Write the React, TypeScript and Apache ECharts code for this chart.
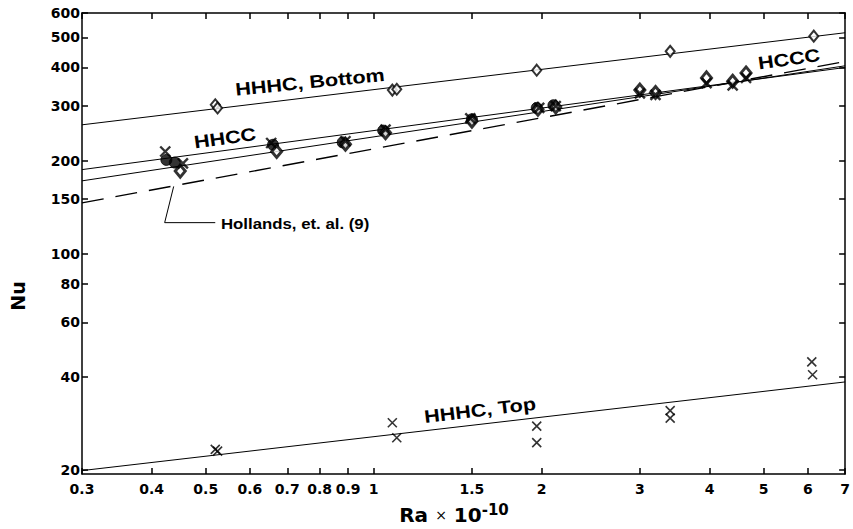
import React, { useEffect, useRef } from 'react';
import * as echarts from 'echarts';

// Axis ticks
const xTicks = [0.3, 0.4, 0.5, 0.6, 0.7, 0.8, 0.9, 1, 1.5, 2, 3, 4, 5, 6, 7];
const yTicks = [20, 40, 60, 80, 100, 150, 200, 300, 400, 500, 600];

// Fitted lines [Ra, Nu]
const bottomLine = [[0.3, 261], [7, 518]];
const hhccLine = [[0.3, 187], [7, 400]];
const hcccLine = [[0.3, 172], [7, 405]];
const hollandsLine = [[0.3, 146], [7, 418]];
const topLine = [[0.3, 19.9], [7, 38.5]];
const hollandsLeader = [[0.438, 165], [0.422, 126], [0.52, 126]];

// Measured points [Ra, Nu]
const bottomPoints = [[0.52, 303], [0.525, 296], [1.08, 338], [1.1, 340], [1.96, 392], [3.4, 451], [6.15, 505]];
const topPoints = [[0.52, 23.3], [0.525, 23.0], [1.08, 28.4], [1.1, 25.4], [1.96, 27.7], [1.96, 24.5], [3.4, 31.1], [3.4, 29.4], [6.1, 44.7], [6.12, 40.6]];
const midDiamonds = [[0.45, 185], [0.67, 214], [0.89, 226], [1.05, 246], [1.5, 268], [1.97, 293], [2.12, 298], [3.0, 338], [3.2, 332], [3.95, 370], [4.4, 361], [4.65, 384]];
const midCircles = [[0.425, 201], [0.44, 197], [0.66, 225], [0.88, 229], [1.04, 250], [1.5, 272], [1.96, 296], [2.1, 302]];
const midCrosses = [[0.423, 214], [0.455, 196], [0.655, 228], [0.89, 231], [1.05, 252], [1.49, 274], [1.98, 296], [2.12, 300], [3.0, 330], [3.2, 326], [3.95, 356], [4.4, 350], [4.65, 370]];

const FONT = 'DejaVu Sans';
const HFONT = 'Liberation Sans';
const CROSS = 'path://M0,0L10,10M10,0L0,10';

const lineSeries = (data: number[][], dashed = false, width = 1) => ({
  type: 'line',
  data,
  symbol: 'none',
  silent: true,
  lineStyle: { color: '#000', width, type: dashed ? [22, 12] : 'solid' },
  z: 2,
});

const note = (text: string, x: number, y: number, rotation: number, fontSize = 18, scaleX = 1.2, align = 'center') => ({
  type: 'text', x, y, rotation, scaleX,
  style: { text, fontFamily: HFONT, fontWeight: 'bold', fontSize, fill: '#000', align, verticalAlign: 'middle' },
});

export default function App() {
  const ref = useRef<HTMLDivElement>(null);
  useEffect(() => {
    const chart = echarts.init(ref.current!, null, { renderer: 'svg' });
    const axisLine = { show: true, lineStyle: { color: '#000', width: 1.5 } };
    const xFmt = (v: number) => String(Math.round(v * 100) / 100);
    const yFmt = (v: number) => String(Math.round(v));
    const labelStyle = { color: '#000', fontFamily: FONT, fontWeight: 'bold', fontSize: 14 };
    const tick = (vals: number[]) => ({ show: true, inside: true, length: 6, customValues: vals, lineStyle: { color: '#000', width: 1.5 } });
    chart.setOption({
      animation: false,
      backgroundColor: '#fff',
      grid: { left: 82, right: 3, top: 13, bottom: 55 },
      xAxis: [
        {
          type: 'log', logBase: 10, min: 0.3, max: 7, position: 'bottom',
          axisLine, axisTick: tick(xTicks),
          axisLabel: { ...labelStyle, customValues: xTicks, formatter: xFmt, margin: 8 },
          splitLine: { show: false },
        },
        {
          type: 'log', logBase: 10, min: 0.3, max: 7, position: 'top',
          axisLine, axisTick: tick(xTicks),
          axisLabel: { show: false, customValues: xTicks },
          splitLine: { show: false },
        },
      ],
      yAxis: [
        {
          type: 'log', logBase: 10, min: 19.4, max: 600, position: 'left',
          axisLine, axisTick: tick(yTicks),
          axisLabel: { ...labelStyle, customValues: yTicks, formatter: yFmt, margin: 2 },
          splitLine: { show: false },
        },
        {
          type: 'log', logBase: 10, min: 19.4, max: 600, position: 'right',
          axisLine, axisTick: tick(yTicks),
          axisLabel: { show: false, customValues: yTicks },
          splitLine: { show: false },
        },
      ],
      series: [
        lineSeries(bottomLine),
        lineSeries(hhccLine),
        lineSeries(hcccLine),
        lineSeries(hollandsLine, true, 1.4),
        lineSeries(topLine),
        lineSeries(hollandsLeader, false, 1),
        {
          type: 'scatter', data: bottomPoints, symbol: 'diamond', symbolSize: [9, 11],
          itemStyle: { color: '#fff', borderColor: '#000', borderWidth: 2 }, z: 3,
        },
        {
          type: 'scatter', data: topPoints, symbol: CROSS, symbolSize: 9,
          itemStyle: { color: 'none', borderColor: '#000', borderWidth: 1.6 }, z: 3,
        },
        {
          type: 'scatter', data: midCircles, symbol: 'circle', symbolSize: 11,
          itemStyle: { color: '#000', borderColor: '#000', borderWidth: 1 }, z: 3,
        },
        {
          type: 'scatter', data: midDiamonds, symbol: 'diamond', symbolSize: [10, 12],
          itemStyle: { color: '#fff', borderColor: '#000', borderWidth: 3 }, z: 4,
        },
        {
          type: 'scatter', data: midCrosses, symbol: CROSS, symbolSize: 10,
          itemStyle: { color: 'none', borderColor: '#000', borderWidth: 2.4 }, z: 4,
        },
      ],
      graphic: [
        note('HHHC, Bottom', 310, 82, 0.1),
        note('HHCC', 225, 138, 0.14),
        note('HCCC', 789, 59, 0.14),
        note('HHHC, Top', 480, 410, 0.12),
        note('Hollands, et. al. (9)', 221, 224, 0, 15, 1.12, 'left'),
        {
          type: 'text', x: 18, y: 296, rotation: Math.PI / 2,
          style: { text: 'Nu', fontFamily: FONT, fontWeight: 'bold', fontSize: 19, fill: '#000', align: 'center', verticalAlign: 'middle' },
        },
        {
          type: 'text', x: 454, y: 515,
          style: {
            text: '{b|Ra}{s|×}{b|10}{sup|-10}',
            align: 'center', verticalAlign: 'middle', fill: '#000',
            rich: {
              b: { fontFamily: FONT, fontWeight: 'bold', fontSize: 20, lineHeight: 26, fill: '#000' },
              s: { fontFamily: FONT, fontSize: 14, lineHeight: 26, fill: '#000', padding: [0, 7, 0, 7] },
              sup: { fontFamily: FONT, fontWeight: 'bold', fontSize: 15, lineHeight: 26, verticalAlign: 'top', fill: '#000', padding: [0, 0, 10, 0] },
            },
          },
        },
      ],
    });
    return () => chart.dispose();
  }, []);
  return <div ref={ref} style={{ position: 'fixed', left: 0, top: 0, width: 853, height: 529 }} />;
}
